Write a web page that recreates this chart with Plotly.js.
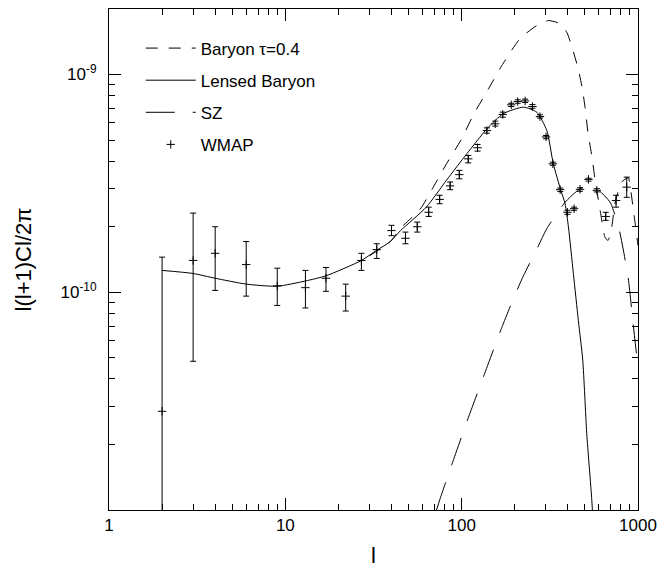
<!DOCTYPE html>
<html><head><meta charset="utf-8">
<script src="https://cdn.plot.ly/plotly-3.0.1.min.js"></script>
<style>html,body{margin:0;padding:0;background:#fff}#chart{width:666px;height:571px}</style>
</head><body><div id="chart"></div>
<script>
// Lensed Baryon (solid)
const lensedL = [2, 3, 4, 6, 9, 13, 17, 27, 33, 39, 45, 63, 82, 107, 139, 172, 224, 267, 304, 331, 365, 386, 403, 430, 459, 486, 512, 547, 570];
const lensedV = [1.26e-10, 1.22e-10, 1.16e-10, 1.09e-10, 1.066e-10, 1.127e-10, 1.19e-10, 1.40e-10, 1.56e-10, 1.70e-10, 1.92e-10, 2.46e-10, 3.27e-10, 4.33e-10, 5.63e-10, 6.61e-10, 7.08e-10, 6.71e-10, 5.53e-10, 3.89e-10, 2.94e-10, 2.55e-10, 2.0e-10, 1.22e-10, 7.4e-11, 4.88e-11, 2.25e-11, 1.11e-11, 6e-12];

// Baryon tau=0.4 (dashed)
const baryonL = [30, 40, 45, 58, 69, 82, 100, 116, 142, 169, 214, 267, 310, 361, 395, 423, 457, 482, 501, 521, 549, 571, 614, 650, 676, 710, 742, 809, 881, 901, 962, 1000];
const baryonV = [1.47e-10, 1.73e-10, 1.97e-10, 2.40e-10, 3.04e-10, 3.89e-10, 5.07e-10, 6.49e-10, 8.6e-10, 1.10e-9, 1.46e-9, 1.68e-9, 1.77e-9, 1.71e-9, 1.56e-9, 1.33e-9, 1.07e-9, 8.7e-10, 7.06e-10, 5.36e-10, 4.16e-10, 3.27e-10, 2.30e-10, 1.79e-10, 1.73e-10, 2.0e-10, 2.59e-10, 3.21e-10, 3.36e-10, 3.1e-10, 2.09e-10, 1.64e-10];

// SZ (long dashed)
const szL = [72, 75, 88, 109, 133, 169, 196, 224, 267, 304, 386, 452, 521, 601, 695, 784, 879, 938, 1000];
const szV = [1.0e-11, 1.11e-11, 1.62e-11, 2.65e-11, 4.1e-11, 6.9e-11, 9.3e-11, 1.19e-10, 1.58e-10, 1.96e-10, 2.59e-10, 2.92e-10, 3.1e-10, 2.93e-10, 2.59e-10, 1.92e-10, 1.17e-10, 7.2e-11, 4.5e-11];

// WMAP points with upper / lower bounds
const wmapL  = [2, 3, 4, 6, 9, 13, 17, 22, 27, 33, 40, 48, 56, 65, 75, 86, 97, 109, 123, 139, 155, 171, 191, 208, 229, 252, 278, 301, 329, 362, 398, 434, 469, 524, 584, 656, 751, 863];
const wmapV  = [2.84e-11, 1.40e-10, 1.51e-10, 1.34e-10, 1.07e-10, 1.05e-10, 1.16e-10, 9.6e-11, 1.40e-10, 1.57e-10, 1.92e-10, 1.77e-10, 2.0e-10, 2.33e-10, 2.67e-10, 3.08e-10, 3.47e-10, 4.1e-10, 4.61e-10, 5.53e-10, 5.94e-10, 6.56e-10, 7.26e-10, 7.52e-10, 7.57e-10, 7.13e-10, 6.41e-10, 5.17e-10, 3.89e-10, 2.96e-10, 2.33e-10, 2.42e-10, 2.97e-10, 3.30e-10, 2.94e-10, 2.23e-10, 2.64e-10, 3.04e-10];
const wmapUp = [1.45e-10, 2.31e-10, 2.0e-10, 1.71e-10, 1.29e-10, 1.26e-10, 1.30e-10, 1.09e-10, 1.51e-10, 1.67e-10, 2.03e-10, 1.89e-10, 2.10e-10, 2.46e-10, 2.79e-10, 3.21e-10, 3.63e-10, 4.25e-10, 4.77e-10, 5.69e-10, 6.11e-10, 6.72e-10, 7.38e-10, 7.66e-10, 7.71e-10, 7.28e-10, 6.53e-10, 5.25e-10, 3.96e-10, 3.01e-10, 2.38e-10, 2.46e-10, 3.02e-10, 3.34e-10, 2.99e-10, 2.33e-10, 2.79e-10, 3.38e-10];
const wmapLo = [1e-12, 4.82e-11, 1.02e-10, 9.6e-11, 8.7e-11, 8.47e-11, 1.01e-10, 8.2e-11, 1.26e-10, 1.43e-10, 1.82e-10, 1.67e-10, 1.89e-10, 2.23e-10, 2.55e-10, 2.96e-10, 3.32e-10, 3.93e-10, 4.45e-10, 5.38e-10, 5.80e-10, 6.37e-10, 7.13e-10, 7.38e-10, 7.44e-10, 7.0e-10, 6.31e-10, 5.07e-10, 3.83e-10, 2.90e-10, 2.28e-10, 2.38e-10, 2.91e-10, 3.24e-10, 2.89e-10, 2.14e-10, 2.46e-10, 2.73e-10];

const xTickVals = [1, 10, 100, 1000];
const xTickText = ['1', '10', '100', '1000'];
const yTickVals = [1e-10, 1e-9];
const yTickText = ['10<sup>-10</sup>', '10<sup>-9</sup>'];

function minorLog(lo, hi) {
  const out = [];
  for (let e = lo; e < hi; e++) for (let m = 2; m <= 9; m++) out.push(m * Math.pow(10, e));
  return out;
}

const FONT = 'Liberation Sans, Arial, Helvetica, sans-serif';
const black = '#000';

const traces = [
  {x: baryonL, y: baryonV, name: 'Baryon \u03c4=0.4', mode: 'lines', legendgroup: 'a',
   line: {color: black, width: 1, dash: '12px,11px', shape: 'spline', smoothing: 0.6}},
  {x: lensedL, y: lensedV, name: 'Lensed Baryon', mode: 'lines', legendgroup: 'b',
   line: {color: black, width: 1, shape: 'spline', smoothing: 0.6}},
  {x: szL, y: szV, name: 'SZ', mode: 'lines', legendgroup: 'c',
   line: {color: black, width: 1, dash: '29px,18px', shape: 'spline', smoothing: 0.6}},
  {x: wmapL, y: wmapV, name: 'WMAP', mode: 'markers', legendgroup: 'd',
   marker: {symbol: 'cross-thin-open', size: 6, color: black, line: {color: black, width: 1}},
   error_y: {type: 'data', symmetric: false,
     array: wmapUp.map((u, i) => u - wmapV[i]),
     arrayminus: wmapLo.map((l, i) => wmapV[i] - l),
     color: black, thickness: 1, width: 3}}
];

const axisCommon = {
  showline: true, linecolor: black, linewidth: 1, mirror: 'allticks',
  ticks: 'inside', ticklen: 12, tickwidth: 1, tickcolor: black,
  showgrid: false, zeroline: false,
  tickfont: {family: FONT, size: 17, color: black}
};

const layout = {
  width: 666, height: 571,
  margin: {l: 109, r: 28, t: 9, b: 61},
  paper_bgcolor: '#fff', plot_bgcolor: '#fff',
  showlegend: true,
  legend: {x: 0.06, y: 0.957, xanchor: 'left', yanchor: 'top', bgcolor: 'rgba(0,0,0,0)',
    font: {family: FONT, size: 17, color: black}, tracegroupgap: 7, traceorder: 'grouped', itemwidth: 50},
  xaxis: Object.assign({}, axisCommon, {
    type: 'log', range: [0, 3], tickmode: 'array', tickvals: xTickVals, ticktext: xTickText,
    ticklabelstandoff: 0,
    minor: {tickmode: 'array', tickvals: minorLog(0, 3), ticks: 'inside', ticklen: 6, tickcolor: black, tickwidth: 1},
    title: {text: 'l', font: {family: FONT, size: 22, color: black}, standoff: 13}
  }),
  yaxis: Object.assign({}, axisCommon, {
    type: 'log', range: [-11, Math.log10(2e-9)], tickmode: 'array', tickvals: yTickVals, ticktext: yTickText,
    ticklabelstandoff: 8,
    minor: {tickmode: 'array', tickvals: minorLog(-11, -9).concat([2e-9]), ticks: 'inside', ticklen: 6, tickcolor: black, tickwidth: 1},
    title: {text: 'l(l+1)Cl/2\u03c0', font: {family: FONT, size: 22, color: black}, standoff: 22}
  })
};

Plotly.newPlot('chart', traces, layout, {staticPlot: true, displayModeBar: false});
</script></body></html>
